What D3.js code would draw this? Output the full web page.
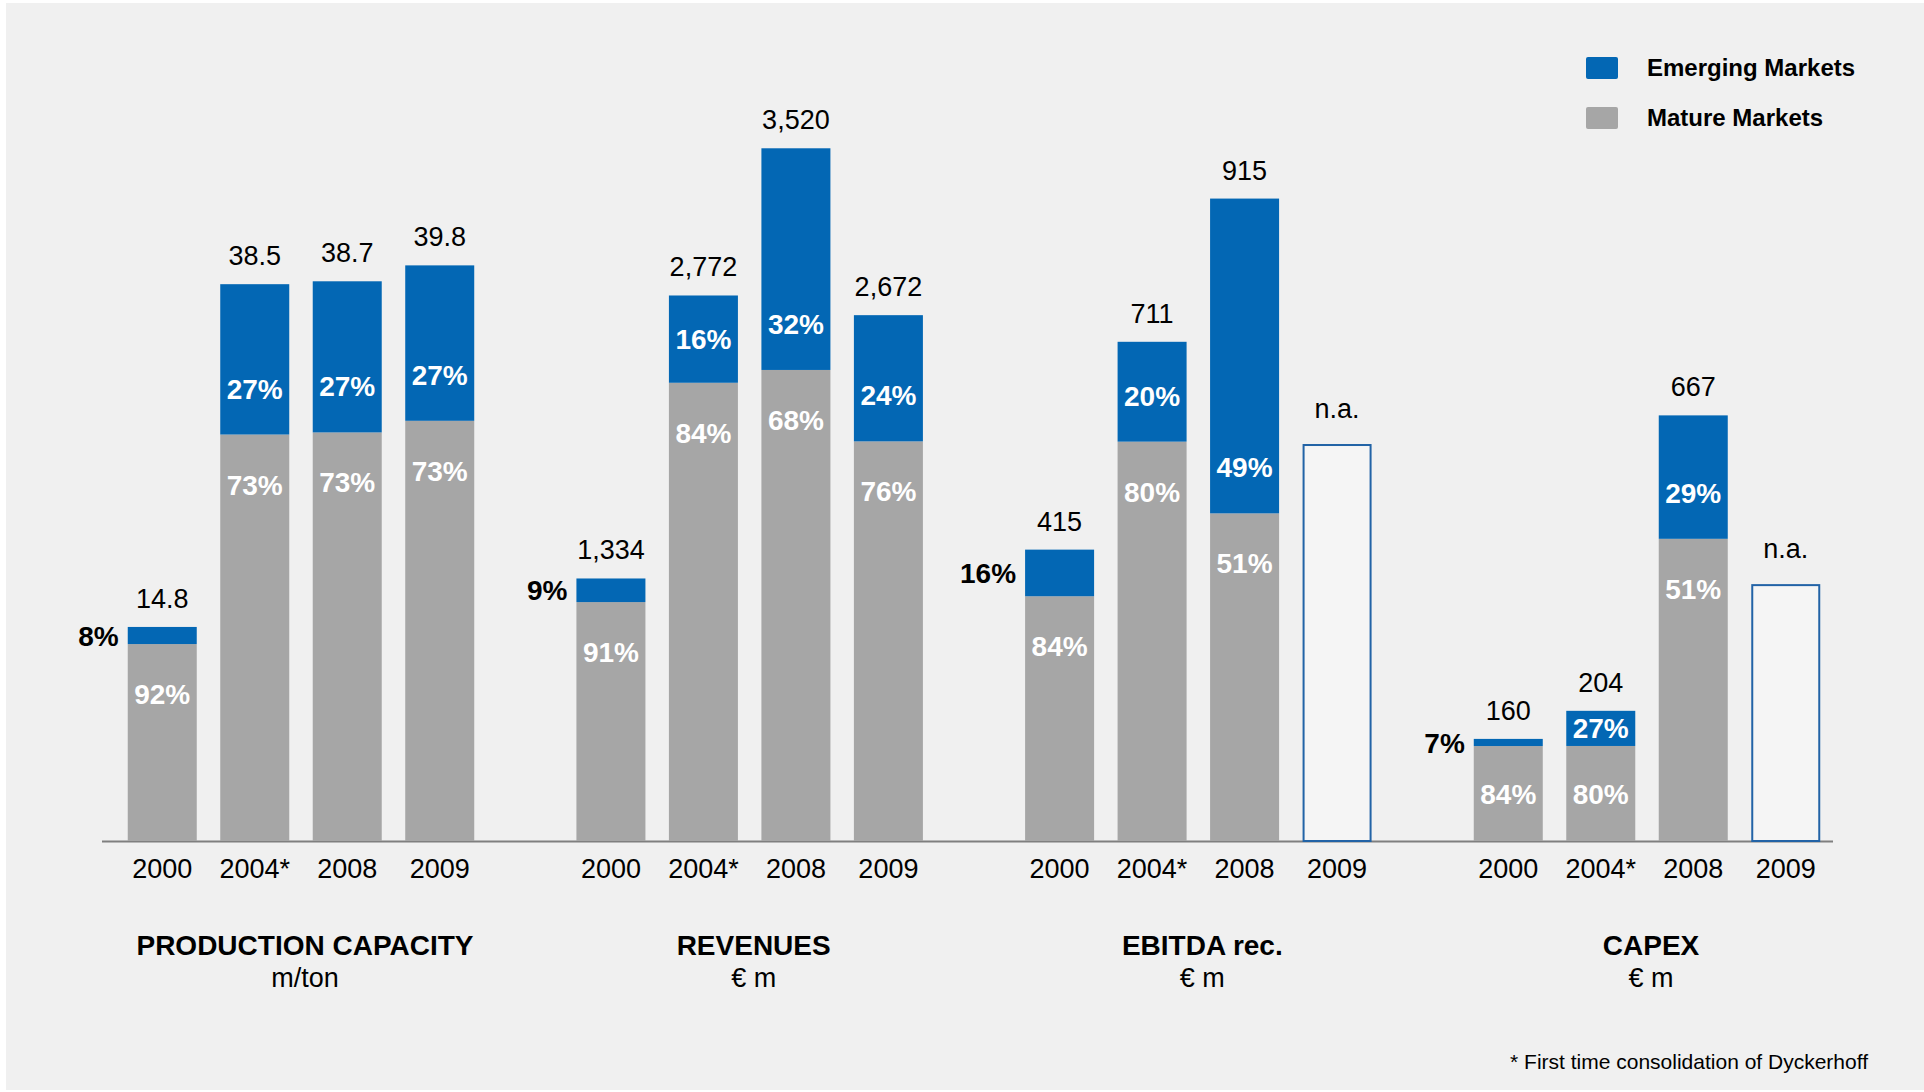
<!DOCTYPE html>
<html>
<head>
<meta charset="utf-8">
<script src="https://cdn.jsdelivr.net/npm/d3@7"></script>
<style>
  html, body { margin: 0; padding: 0; background: #ffffff; }
  svg { display: block; }
  text { font-family: "Liberation Sans", Arial, sans-serif; }
</style>
</head>
<body>
<svg id="chart" width="1924" height="1092"></svg>
<script>
// ---- data -------------------------------------------------------------
const panels   = ["PRODUCTION CAPACITY", "REVENUES", "EBITDA rec.", "CAPEX"];
const units    = ["m/ton", "€ m", "€ m", "€ m"];
const years    = ["2000", "2004*", "2008", "2009"];

// totals per year (null = not available)
const capacity = [14.8, 38.5, 38.7, 39.8];
const revenues = [1334, 2772, 3520, 2672];
const ebitda   = [415, 711, 915, null];
const capex    = [160, 204, 667, null];

// emerging markets share, %
const capacityEmerging = [8, 27, 27, 27];
const revenuesEmerging = [9, 16, 32, 24];
const ebitdaEmerging   = [16, 20, 49, null];
const capexEmerging    = [7, 27, 29, null];

// mature markets share, %
const capacityMature = [92, 73, 73, 73];
const revenuesMature = [91, 84, 68, 76];
const ebitdaMature   = [84, 80, 51, null];
const capexMature    = [84, 80, 51, null];

// nominal height of the empty "n.a." box, in panel units
const naBoxValue = [null, null, 564, 401];

const legendLabels = ["Emerging Markets", "Mature Markets"];
const footnote = "* First time consolidation of Dyckerhoff";

// ---- layout -------------------------------------------------------------
const totalsByPanel   = [capacity, revenues, ebitda, capex];
const emergingByPanel = [capacityEmerging, revenuesEmerging, ebitdaEmerging, capexEmerging];
const matureByPanel   = [capacityMature, revenuesMature, ebitdaMature, capexMature];
const scaleMax = [48.4, 3557, 997, 1097];

const BLUE = "#0367b4", GREY = "#a6a6a6", AXIS = "#7f7f7f";
const baseY = 841, topY = 141;

const svg = d3.select("#chart");

svg.append("rect")
  .attr("x", 6).attr("y", 3).attr("width", 1918).attr("height", 1087)
  .attr("fill", "#f0f0f0");

const panelX = d3.scaleBand().domain(panels).range([116, 1832])
  .paddingInner(0.1754).paddingOuter(0);
const yearX = d3.scaleBand().domain(years).range([0, panelX.bandwidth()])
  .paddingInner(0.254).paddingOuter(0.127);

const fmt = d3.format(",");

// baseline
svg.append("line")
  .attr("x1", 102).attr("x2", 1833)
  .attr("y1", baseY + 0.5).attr("y2", baseY + 0.5)
  .attr("stroke", AXIS).attr("stroke-width", 2);

panels.forEach((p, pi) => {
  const y = d3.scaleLinear().domain([0, scaleMax[pi]]).range([baseY, topY]);
  const g = svg.append("g").attr("transform", `translate(${panelX(p)},0)`);

  const rows = years.map((yr, i) => ({
    year: yr, i,
    total: totalsByPanel[pi][i],
    em: emergingByPanel[pi][i],
    ma: matureByPanel[pi][i],
    na: totalsByPanel[pi][i] == null ? naBoxValue[pi] : null
  }));
  const bw = yearX.bandwidth();

  const valid = rows.filter(d => d.total != null);
  const splitY = d => y(d.total * (1 - d.em / 100));

  // mature (grey) segment
  g.selectAll("rect.mature").data(valid).join("rect")
    .attr("class", "mature")
    .attr("x", d => yearX(d.year)).attr("width", bw)
    .attr("y", d => splitY(d))
    .attr("height", d => baseY - splitY(d))
    .attr("fill", GREY);

  // emerging (blue) segment
  g.selectAll("rect.emerging").data(valid).join("rect")
    .attr("class", "emerging")
    .attr("x", d => yearX(d.year)).attr("width", bw)
    .attr("y", d => y(d.total))
    .attr("height", d => splitY(d) - y(d.total))
    .attr("fill", BLUE);

  // not-available placeholder boxes
  const naRows = rows.filter(d => d.na != null);
  g.selectAll("rect.na").data(naRows).join("rect")
    .attr("class", "na")
    .attr("x", d => yearX(d.year) + 1).attr("width", bw - 2)
    .attr("y", d => y(d.na))
    .attr("height", d => baseY - y(d.na))
    .attr("fill", "#f5f5f5").attr("stroke", "#2263a6").attr("stroke-width", 2);

  g.selectAll("text.na").data(naRows).join("text")
    .attr("class", "na")
    .attr("x", d => yearX(d.year) + bw / 2)
    .attr("y", d => y(d.na) - 27)
    .attr("text-anchor", "middle").attr("font-size", 27).attr("fill", "#000")
    .text("n.a.");

  // totals
  g.selectAll("text.total").data(valid).join("text")
    .attr("class", "total")
    .attr("x", d => yearX(d.year) + bw / 2)
    .attr("y", d => y(d.total) - 19)
    .attr("text-anchor", "middle").attr("font-size", 27).attr("fill", "#000")
    .text(d => fmt(d.total));

  // emerging share labels: inside the blue segment, or to the left for the first year
  g.selectAll("text.em").data(valid).join("text")
    .attr("class", "em")
    .attr("x", d => d.i === 0 ? yearX(d.year) - 9 : yearX(d.year) + bw / 2)
    .attr("y", d => {
      const top = y(d.total), split = splitY(d);
      return d.i === 0 ? (top + split) / 2 : Math.max((top + split) / 2, split - 46);
    })
    .attr("dy", "0.36em")
    .attr("text-anchor", d => d.i === 0 ? "end" : "middle")
    .attr("font-size", 28).attr("font-weight", "bold")
    .attr("fill", d => d.i === 0 ? "#000" : "#fff")
    .text(d => d.em + "%");

  // mature share labels
  g.selectAll("text.ma").data(valid).join("text")
    .attr("class", "ma")
    .attr("x", d => yearX(d.year) + bw / 2)
    .attr("y", d => {
      const split = splitY(d);
      return Math.min(split + 50, (split + baseY) / 2);
    })
    .attr("dy", "0.36em")
    .attr("text-anchor", "middle")
    .attr("font-size", 28).attr("font-weight", "bold").attr("fill", "#fff")
    .text(d => d.ma + "%");

  // year axis
  const ax = g.append("g").attr("transform", `translate(0,${baseY})`)
    .call(d3.axisBottom(yearX).tickSize(0).tickPadding(18));
  ax.select(".domain").remove();
  ax.selectAll("text")
    .attr("font-size", 27).attr("fill", "#000")
    .attr("font-family", "'Liberation Sans', Arial, sans-serif");

  // panel title and unit
  const cx = panelX.bandwidth() / 2 + 4;
  g.append("text").attr("x", cx).attr("y", 955)
    .attr("text-anchor", "middle").attr("font-size", 28).attr("font-weight", "bold")
    .attr("fill", "#000").text(p);
  g.append("text").attr("x", cx).attr("y", 987)
    .attr("text-anchor", "middle").attr("font-size", 27).attr("fill", "#000")
    .text(units[pi]);
});

// legend
const legend = svg.append("g").attr("transform", "translate(1586,57)");
const legendColor = d3.scaleOrdinal().domain(legendLabels).range([BLUE, GREY]);
const li = legend.selectAll("g").data(legendLabels).join("g")
  .attr("transform", (d, i) => `translate(0,${i * 50})`);
li.append("rect").attr("width", 32).attr("height", 22).attr("rx", 2)
  .attr("fill", d => legendColor(d));
li.append("text").attr("x", 61).attr("y", 19)
  .attr("font-family", "Lato, 'Liberation Sans', sans-serif")
  .attr("font-size", 24).attr("font-weight", "bold").attr("fill", "#000")
  .text(d => d);

// footnote
svg.append("text").attr("x", 1868).attr("y", 1069)
  .attr("text-anchor", "end").attr("font-size", 21).attr("fill", "#000")
  .text(footnote);
</script>
</body>
</html>
